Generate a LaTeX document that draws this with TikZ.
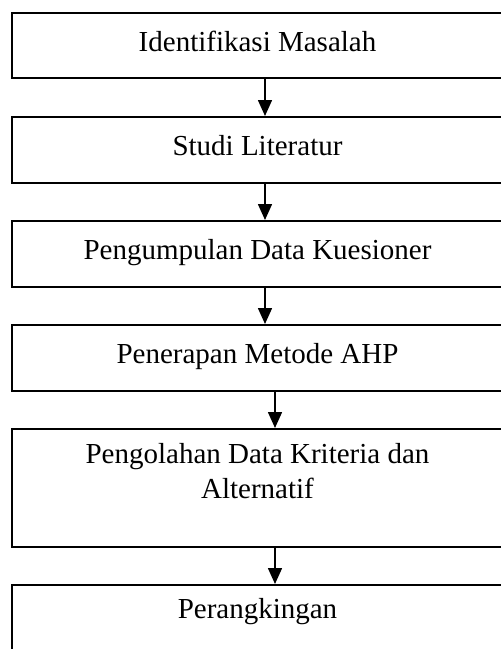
\documentclass[tikz,border=0pt]{standalone}
\usepackage{fontspec}
\setmainfont{Liberation Serif}
\usetikzlibrary{arrows.meta}
\begin{document}
\begin{tikzpicture}[x=1pt,y=-1pt,
  stepbox/.style={draw=black,line width=1.6pt,rectangle,minimum width=491pt,inner sep=0pt,anchor=north},
  steptext/.style={anchor=base,inner sep=0pt,font=\fontsize{29}{35}\selectfont,align=center},
  flow/.style={line width=1.6pt,-{Triangle[width=14pt,length=16pt]}}]
\useasboundingbox (0,0) rectangle (501,649);
\fill[white] (0,0) rectangle (501,649);
\node[stepbox,minimum height=65pt] (b1) at (257.5,12) {};
\node[stepbox,minimum height=66pt] (b2) at (257.5,116) {};
\node[stepbox,minimum height=66pt] (b3) at (257.5,220) {};
\node[stepbox,minimum height=66pt] (b4) at (257.5,324) {};
\node[stepbox,minimum height=118pt] (b5) at (257.5,428) {};
\node[stepbox,minimum height=90pt] (b6) at (257.5,584) {};
\node[steptext] (t1) at (257.5,51) {Identifikasi Masalah};
\node[steptext] (t2) at (257.5,155) {Studi Literatur};
\node[steptext] (t3) at (257.5,259) {Pengumpulan Data Kuesioner};
\node[steptext] (t4) at (257.5,363) {Penerapan Metode AHP};
\node[steptext,anchor=north] (t5) at (257.5,443) {Pengolahan Data Kriteria dan\\Alternatif};
\node[steptext] (t6) at (257.5,618) {Perangkingan};
\draw[flow] ([xshift=7.5pt]b1.south) -- ([xshift=7.5pt]b2.north);
\draw[flow] ([xshift=7.5pt]b2.south) -- ([xshift=7.5pt]b3.north);
\draw[flow] ([xshift=7.5pt]b3.south) -- ([xshift=7.5pt]b4.north);
\draw[flow] ([xshift=17.5pt]b4.south) -- ([xshift=17.5pt]b5.north);
\draw[flow] ([xshift=17.5pt]b5.south) -- ([xshift=17.5pt]b6.north);
\end{tikzpicture}
\end{document}
